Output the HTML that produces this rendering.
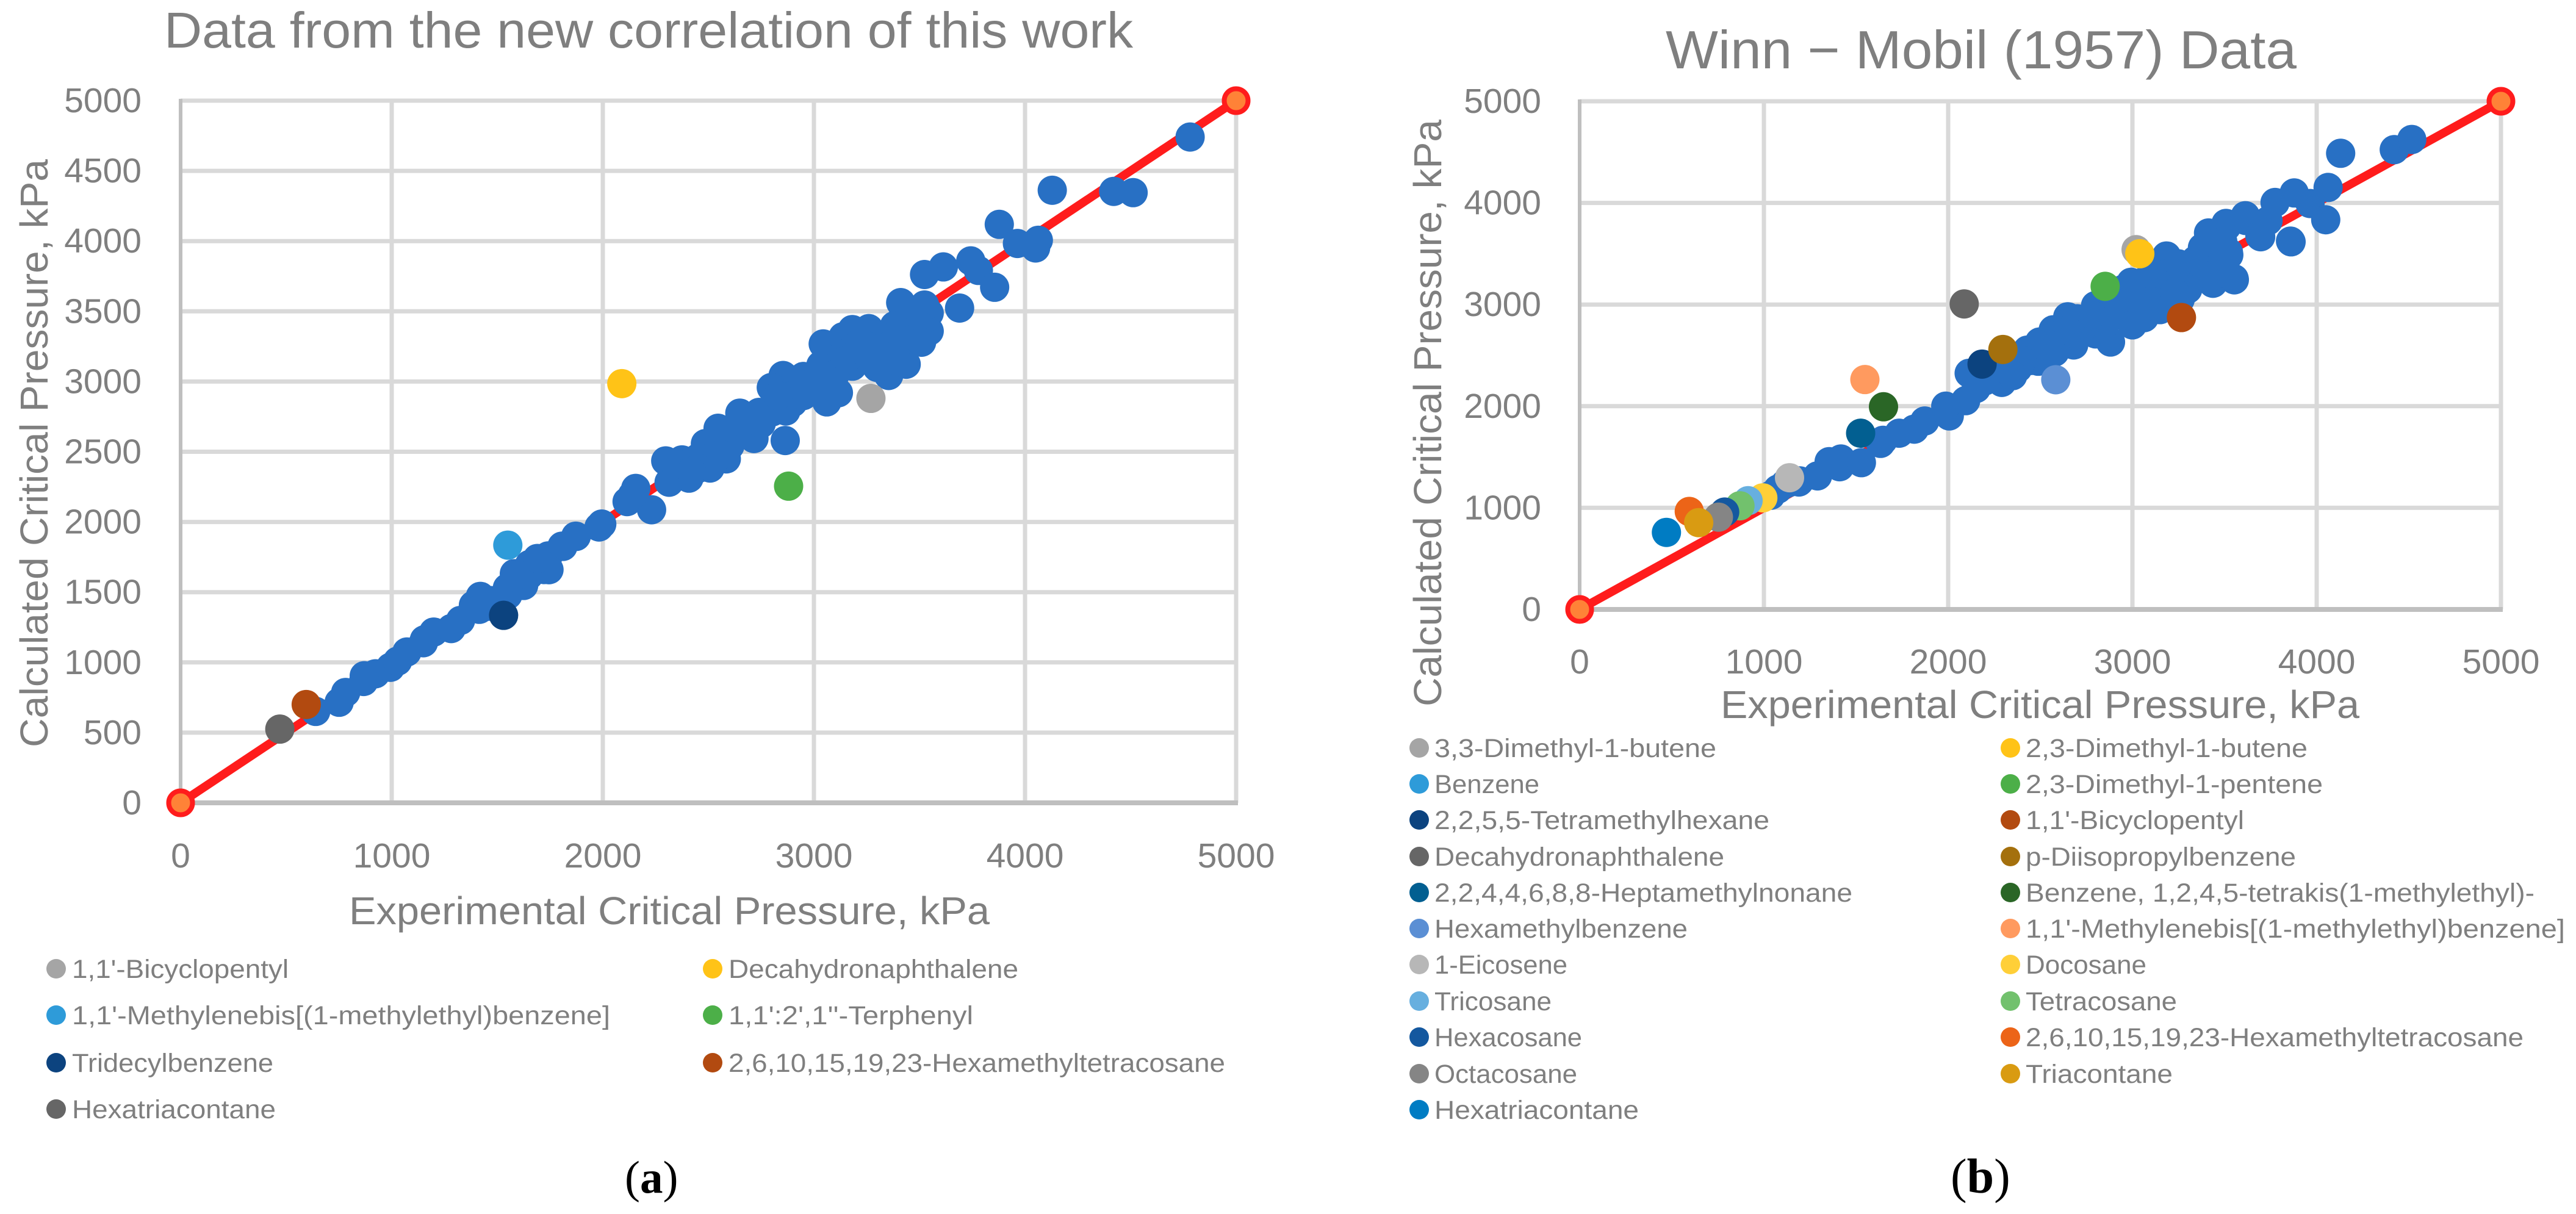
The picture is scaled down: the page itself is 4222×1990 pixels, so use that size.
<!DOCTYPE html>
<html lang="en">
<head>
<meta charset="utf-8">
<title>Critical pressure correlation comparison</title>
<style>
html,body{margin:0;padding:0;background:#fff;}
svg{display:block;}
text{font-family:"Liberation Sans",sans-serif;fill:#7f7f7f;}
.title{font-size:83px;}
.axt{font-size:64px;}
.leg{font-size:43px;}
.tick{font-size:57px;}
.cap{font-family:"Liberation Serif",serif;font-size:75px;fill:#000;}
</style>
</head>
<body>
<svg id="figure" xmlns="http://www.w3.org/2000/svg" width="4222" height="1990" viewBox="0 0 4222 1990">
<rect width="4222" height="1990" fill="#ffffff"/>
<g id="panelA"></g>
<g id="panelB"></g>

<text class="title" x="269" y="78" textLength="1588" lengthAdjust="spacingAndGlyphs">Data from the new correlation of this work</text>
<text class="axt" x="572" y="1515" textLength="1050" lengthAdjust="spacingAndGlyphs">Experimental Critical Pressure, kPa</text>
<text class="axt" transform="translate(78,1225) rotate(-90)" textLength="964" lengthAdjust="spacingAndGlyphs">Calculated Critical Pressure, kPa</text>

<text class="title" style="font-size:88px" x="2730" y="112" textLength="1034" lengthAdjust="spacingAndGlyphs">Winn − Mobil (1957) Data</text>
<text class="axt" x="2820" y="1177" textLength="1047" lengthAdjust="spacingAndGlyphs">Experimental Critical Pressure, kPa</text>
<text class="axt" transform="translate(2362,1158) rotate(-90)" textLength="962" lengthAdjust="spacingAndGlyphs">Calculated Critical Pressure, kPa</text>

<g>
<g><circle cx="92" cy="1588" r="16" fill="#a5a5a5"/><text class="leg" x="118" y="1603" textLength="355" lengthAdjust="spacingAndGlyphs">1,1'-Bicyclopentyl</text></g>
<g><circle cx="1168" cy="1588" r="16" fill="#ffc317"/><text class="leg" x="1194" y="1603" textLength="475" lengthAdjust="spacingAndGlyphs">Decahydronaphthalene</text></g>
<g><circle cx="92" cy="1664" r="16" fill="#2e9bd9"/><text class="leg" x="118" y="1679" textLength="882" lengthAdjust="spacingAndGlyphs">1,1'-Methylenebis[(1-methylethyl)benzene]</text></g>
<g><circle cx="1168" cy="1664" r="16" fill="#4caf48"/><text class="leg" x="1194" y="1679" textLength="401" lengthAdjust="spacingAndGlyphs">1,1':2',1''-Terphenyl</text></g>
<g><circle cx="92" cy="1742" r="16" fill="#0c437f"/><text class="leg" x="118" y="1757" textLength="330" lengthAdjust="spacingAndGlyphs">Tridecylbenzene</text></g>
<g><circle cx="1168" cy="1742" r="16" fill="#b24a10"/><text class="leg" x="1194" y="1757" textLength="814" lengthAdjust="spacingAndGlyphs">2,6,10,15,19,23-Hexamethyltetracosane</text></g>
<g><circle cx="92" cy="1818" r="16" fill="#666666"/><text class="leg" x="118" y="1833" textLength="334" lengthAdjust="spacingAndGlyphs">Hexatriacontane</text></g>
</g>

<g>
<g><circle cx="2326" cy="1226" r="16" fill="#a5a5a5"/><text class="leg" x="2351" y="1241" textLength="462" lengthAdjust="spacingAndGlyphs">3,3-Dimethyl-1-butene</text></g>
<g><circle cx="3295" cy="1226" r="16" fill="#ffc317"/><text class="leg" x="3320" y="1241" textLength="462" lengthAdjust="spacingAndGlyphs">2,3-Dimethyl-1-butene</text></g>
<g><circle cx="2326" cy="1285" r="16" fill="#2e9bd9"/><text class="leg" x="2351" y="1300" textLength="172" lengthAdjust="spacingAndGlyphs">Benzene</text></g>
<g><circle cx="3295" cy="1285" r="16" fill="#4caf48"/><text class="leg" x="3320" y="1300" textLength="487" lengthAdjust="spacingAndGlyphs">2,3-Dimethyl-1-pentene</text></g>
<g><circle cx="2326" cy="1344" r="16" fill="#0c437f"/><text class="leg" x="2351" y="1359" textLength="549" lengthAdjust="spacingAndGlyphs">2,2,5,5-Tetramethylhexane</text></g>
<g><circle cx="3295" cy="1344" r="16" fill="#b24a10"/><text class="leg" x="3320" y="1359" textLength="358" lengthAdjust="spacingAndGlyphs">1,1'-Bicyclopentyl</text></g>
<g><circle cx="2326" cy="1404" r="16" fill="#666666"/><text class="leg" x="2351" y="1419" textLength="475" lengthAdjust="spacingAndGlyphs">Decahydronaphthalene</text></g>
<g><circle cx="3295" cy="1404" r="16" fill="#a4700d"/><text class="leg" x="3320" y="1419" textLength="443" lengthAdjust="spacingAndGlyphs">p-Diisopropylbenzene</text></g>
<g><circle cx="2326" cy="1463" r="16" fill="#025f91"/><text class="leg" x="2351" y="1478" textLength="685" lengthAdjust="spacingAndGlyphs">2,2,4,4,6,8,8-Heptamethylnonane</text></g>
<g><circle cx="3295" cy="1463" r="16" fill="#2a6626"/><text class="leg" x="3320" y="1478" textLength="834" lengthAdjust="spacingAndGlyphs">Benzene, 1,2,4,5-tetrakis(1-methylethyl)-</text></g>
<g><circle cx="2326" cy="1522" r="16" fill="#5b8fd4"/><text class="leg" x="2351" y="1537" textLength="415" lengthAdjust="spacingAndGlyphs">Hexamethylbenzene</text></g>
<g><circle cx="3295" cy="1522" r="16" fill="#ff9a5f"/><text class="leg" x="3320" y="1537" textLength="884" lengthAdjust="spacingAndGlyphs">1,1'-Methylenebis[(1-methylethyl)benzene]</text></g>
<g><circle cx="2326" cy="1581" r="16" fill="#b7b7b7"/><text class="leg" x="2351" y="1596" textLength="218" lengthAdjust="spacingAndGlyphs">1-Eicosene</text></g>
<g><circle cx="3295" cy="1581" r="16" fill="#ffcf38"/><text class="leg" x="3320" y="1596" textLength="198" lengthAdjust="spacingAndGlyphs">Docosane</text></g>
<g><circle cx="2326" cy="1641" r="16" fill="#67afdf"/><text class="leg" x="2351" y="1656" textLength="192" lengthAdjust="spacingAndGlyphs">Tricosane</text></g>
<g><circle cx="3295" cy="1641" r="16" fill="#72c16d"/><text class="leg" x="3320" y="1656" textLength="248" lengthAdjust="spacingAndGlyphs">Tetracosane</text></g>
<g><circle cx="2326" cy="1700" r="16" fill="#14589f"/><text class="leg" x="2351" y="1715" textLength="242" lengthAdjust="spacingAndGlyphs">Hexacosane</text></g>
<g><circle cx="3295" cy="1700" r="16" fill="#ec6418"/><text class="leg" x="3320" y="1715" textLength="816" lengthAdjust="spacingAndGlyphs">2,6,10,15,19,23-Hexamethyltetracosane</text></g>
<g><circle cx="2326" cy="1760" r="16" fill="#858585"/><text class="leg" x="2351" y="1775" textLength="234" lengthAdjust="spacingAndGlyphs">Octacosane</text></g>
<g><circle cx="3295" cy="1760" r="16" fill="#d99b12"/><text class="leg" x="3320" y="1775" textLength="241" lengthAdjust="spacingAndGlyphs">Triacontane</text></g>
<g><circle cx="2326" cy="1819" r="16" fill="#007cc3"/><text class="leg" x="2351" y="1834" textLength="335" lengthAdjust="spacingAndGlyphs">Hexatriacontane</text></g>
</g>

<text class="cap" x="1024" y="1955">(<tspan font-weight="bold">a</tspan>)</text>
<text class="cap" style="font-size:80px" x="3197" y="1955">(<tspan font-weight="bold">b</tspan>)</text>
</svg>

<script>
var referenceX = [0, 5000];
var referenceY = [0, 5000];

var aXTicks = [0, 1000, 2000, 3000, 4000, 5000];
var aYTicks = [0, 500, 1000, 1500, 2000, 2500, 3000, 3500, 4000, 4500, 5000];
var bXTicks = [0, 1000, 2000, 3000, 4000, 5000];
var bYTicks = [0, 1000, 2000, 3000, 4000, 5000];

var aBlueX = [640,751,782,867,923,870,994,1028,1072,1155,1199,1150,1282,1326,1387,1420,1415,1470,1548,1581,1625,1653,1722,1741,1807,1874,1982,1995,1872,1811,1745,2115,2156,2231,2140,2314,2408,2298,2375,2508,2585,2486,2546,2649,2602,2716,2864,2801,2867,2854,2798,3061,3116,3027,3033,3044,3138,3182,3260,3354,3437,3382,3404,3420,3293,3182,2961,2950,2685,2452,2900,3100,3200,3300,3350,3250,4782,4129,4420,4512,3878,3964,4063,4050,3743,3613,3524,3779,3856,3690,3411,3524,3546,3546,3408,3375,3425,2350,2450,2550,2600,2700,2750,2740,2900,2950,3000,3100,3150,3250,3300,3350,3450,3480,3500,1450,1460,1550,1600,1650,1690,2340,2420,2560,2650,2830,2980,3080,3220,3330,3390,3470,3510];
var aBlueY = [651,716,786,864,919,905,965,1009,1074,1161,1216,1140,1241,1299,1407,1470,1378,1440,1530,1632,1548,1697,1661,1758,1828,1897,1964,1985,1899,1826,1660,2145,2239,2087,2190,2283,2312,2435,2442,2384,2449,2558,2667,2775,2543,2594,2580,2783,2790,3043,2957,2855,2920,3000,3116,3268,3319,3370,3377,3043,3123,3398,3268,3456,3181,3109,2964,3036,2674,2457,2900,3100,3200,3250,3150,3250,4741,4362,4354,4345,4119,3983,4006,3951,3859,3816,3762,3791,3671,3523,3562,3545,3487,3359,3400,3320,3197,2350,2380,2550,2650,2650,2700,2780,2850,2900,2950,3050,3150,3200,3100,3250,3350,3450,3400,1430,1400,1480,1600,1620,1740,2420,2360,2480,2720,2900,2980,3000,3280,3180,3150,3300,3280];

var aSeriesNames = ["bicyclopentyl","decahydronaphthalene","methylenebis","terphenyl","tridecylbenzene","hexamethyltetracosane","hexatriacontane"];
var aSeriesX = [3270,2090,1550,2880,1530,595,470];
var aSeriesY = [2880,2985,1835,2255,1335,700,525];
var aSeriesColors = ["#a5a5a5","#ffc317","#2e9bd9","#4caf48","#0c437f","#b24a10","#666666"];

var bBlueX = [1038,1076,1114,1139,1190,1195,1291,1411,1418,1354,1529,1646,1633,1734,1816,1873,2006,1987,2095,2152,2114,2291,2378,2430,2496,2570,2649,2489,2578,2681,2800,2881,2978,3064,2800,2993,2874,3111,3185,3259,3341,3437,3553,3523,3415,3696,3861,3511,3615,3319,3170,2726,2637,3521,3343,3552,3413,3508,3613,3692,3736,3858,3774,3878,3964,4062,4049,4130,4421,4516,2900,3000,3100,3200,3300,3400,3480,2700,2600,2500,2200,2650,2700,2750,2850,2950,3050,3150,3250,3350,3400,3450,3300,3200,3150,3000,2450,2550,2400,3500,3380,3450,3100,3250,3000,2950,2920,2200,2280,2350,2700,2780,3050,3130,3230,3450,3490];
var bBlueY = [1124,1184,1234,1250,1254,1265,1314,1404,1480,1454,1444,1664,1634,1734,1774,1854,1904,2000,2054,2174,2324,2234,2373,2552,2631,2751,2880,2442,2532,2602,2711,2631,2861,2871,2990,3219,3090,3090,3478,3050,3432,3209,3243,3488,3697,3667,3617,3767,3827,3289,3289,2851,2691,3514,3438,3254,3704,3798,3874,3674,3824,3624,4004,4098,3994,4152,3834,4488,4524,4624,3000,3100,3200,3150,3300,3400,3600,2750,2700,2500,2300,2750,2700,2800,2800,2950,3000,3150,3250,3300,3350,3500,3150,3000,2950,2800,2450,2600,2450,3400,3560,3600,3300,3400,3100,3150,3050,2250,2380,2300,2860,2900,2960,3020,3120,3300,3620];

var bSeriesNames = ["33-dimethyl-butene","23-dimethyl-butene","23-dimethyl-pentene","tetramethylhexane","bicyclopentyl","decahydronaphthalene","p-diisopropylbenzene","heptamethylnonane","tetrakis-benzene","hexamethylbenzene","methylenebis","eicosene","docosane","tricosane","tetracosane","hexacosane","hexamethyltetracosane","octacosane","triacontane","hexatriacontane"];
var bSeriesX = [3020,3040,2852,2184,3266,2087,2297,1525,1649,2584,1548,1139,994,914,870,787,595,753,646,471];
var bSeriesY = [3540,3500,3179,2414,2872,3006,2558,1734,1994,2260,2262,1296,1098,1070,1020,958,964,908,854,758];
var bSeriesColors = ["#a5a5a5","#ffc317","#4caf48","#0c437f","#b24a10","#666666","#a4700d","#025f91","#2a6626","#5b8fd4","#ff9a5f","#b7b7b7","#ffcf38","#67afdf","#72c16d","#14589f","#ec6418","#858585","#d99b12","#007cc3"];
var bHiddenX = [2800];
var bHiddenY = [2900];

var SVGNS = "http://www.w3.org/2000/svg";

function make(tag, parent, attrs) {
  var el = document.createElementNS(SVGNS, tag);
  for (var k in attrs) { el.setAttribute(k, attrs[k]); }
  parent.appendChild(el);
  return el;
}

function drawPanel(group, frame, xTicks, yTicks, blueX, blueY, hiddenX, hiddenY, names, sx, sy, colors) {
  function xScale(v) { return frame.left + v / 5000 * (frame.right - frame.left); }
  function yScale(v) { return frame.bottom - v / 5000 * (frame.bottom - frame.top); }
  var i, el;

  for (i = 0; i < yTicks.length; i++) {
    if (yTicks[i] === 0) { continue; }
    el = make("line", group, {x1: frame.left, x2: frame.right, y1: yScale(yTicks[i]), y2: yScale(yTicks[i]), stroke: "#d9d9d9", "stroke-width": 7});
    
    
  }
  for (i = 0; i < xTicks.length; i++) {
    if (xTicks[i] === 0) { continue; }
    el = make("line", group, {x1: xScale(xTicks[i]), x2: xScale(xTicks[i]), y1: frame.top, y2: frame.bottom, stroke: "#d9d9d9", "stroke-width": 7});
    
    
  }
  el = make("line", group, {x1: frame.left - 2, x2: frame.right + 3, y1: frame.bottom, y2: frame.bottom, stroke: "#bfbfbf", "stroke-width": 8});
  
  
  el = make("line", group, {x1: frame.left, x2: frame.left, y1: frame.top - 3, y2: frame.bottom, stroke: "#bfbfbf", "stroke-width": 6});
  
  

  for (i = 0; i < xTicks.length; i++) {
    el = make("text", group, {"class": "tick", x: xScale(xTicks[i]), y: frame.xLabelY, "text-anchor": "middle"});
    el.textContent = String(xTicks[i]);
    
    
  }
  for (i = 0; i < yTicks.length; i++) {
    el = make("text", group, {"class": "tick", x: frame.yLabelX, y: yScale(yTicks[i]) + 19, "text-anchor": "end"});
    el.textContent = String(yTicks[i]);
    
    
  }

  el = make("line", group, {x1: xScale(referenceX[0]), y1: yScale(referenceY[0]), x2: xScale(referenceX[1]), y2: yScale(referenceY[1]), stroke: "#ff1c1c", "stroke-width": 14});
  
  
  for (i = 0; i < referenceX.length; i++) {
    el = make("circle", group, {cx: xScale(referenceX[i]), cy: yScale(referenceY[i]), r: 19.5, fill: "#ff8237", stroke: "#ff1c1c", "stroke-width": 8});
    
    
  }
  for (i = 0; i < hiddenX.length; i++) {
    el = make("circle", group, {cx: xScale(hiddenX[i]), cy: yScale(hiddenY[i]), r: 24, fill: "#2e9bd9"});
    
    
  }
  for (i = 0; i < blueX.length; i++) {
    el = make("circle", group, {cx: xScale(blueX[i]), cy: yScale(blueY[i]), r: 24, fill: "#2870c4"});
    
    
  }
  for (i = 0; i < sx.length; i++) {
    el = make("circle", group, {cx: xScale(sx[i]), cy: yScale(sy[i]), r: 24, fill: colors[i]});
    
    
  }
}

drawPanel(document.getElementById("panelA"),
  {left: 296, right: 2026, top: 165, bottom: 1316, xLabelY: 1422, yLabelX: 232},
  aXTicks, aYTicks, aBlueX, aBlueY, [], [], aSeriesNames, aSeriesX, aSeriesY, aSeriesColors);

drawPanel(document.getElementById("panelB"),
  {left: 2589, right: 4099, top: 166, bottom: 999, xLabelY: 1104, yLabelX: 2526},
  bXTicks, bYTicks, bBlueX, bBlueY, bHiddenX, bHiddenY, bSeriesNames, bSeriesX, bSeriesY, bSeriesColors);
</script>
</body>
</html>
